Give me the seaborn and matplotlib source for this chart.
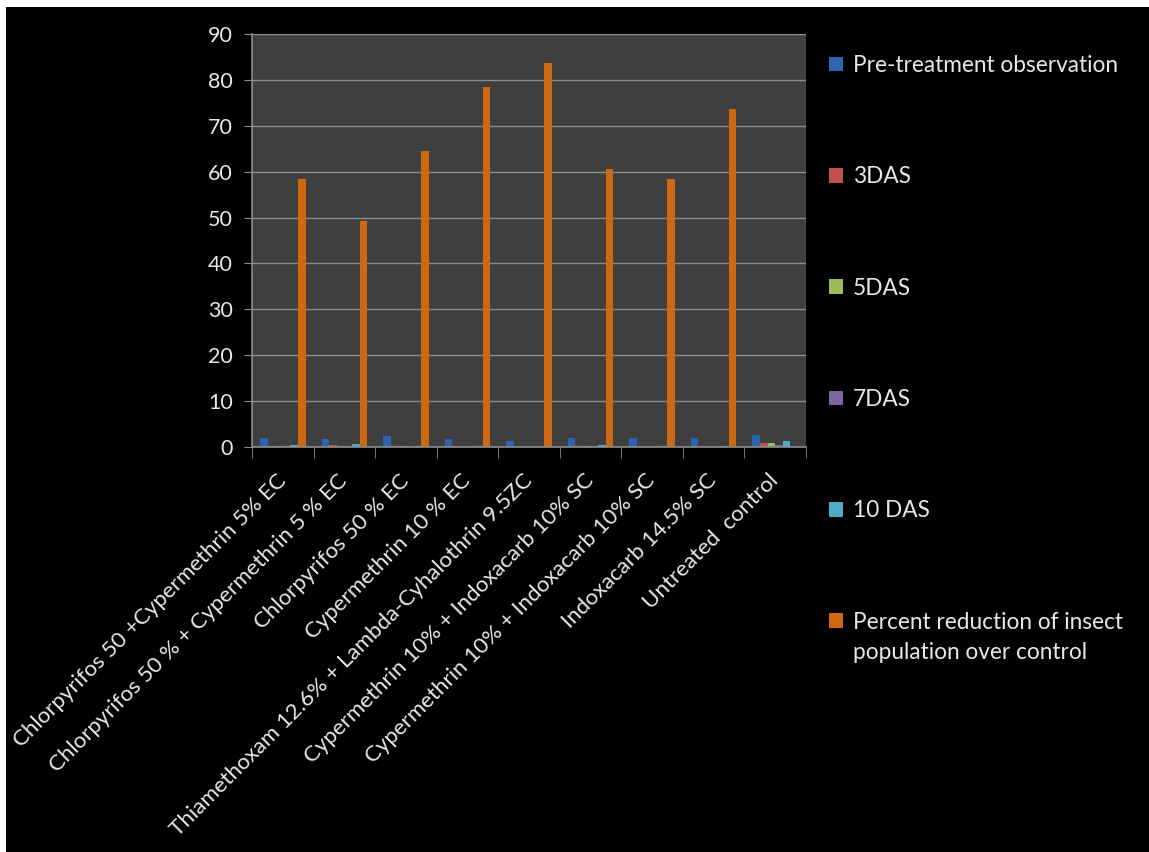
import matplotlib
matplotlib.use("Agg")
import matplotlib.pyplot as plt
from matplotlib.patches import Rectangle
import seaborn as sns
import pandas as pd

treatments = [
    "Chlorpyrifos 50 +Cypermethrin 5% EC",
    "Chlorpyrifos 50 % + Cypermethrin 5 % EC",
    "Chlorpyrifos 50 % EC",
    "Cypermethrin 10 % EC",
    "Thiamethoxam 12.6% + Lambda-Cyhalothrin 9.5ZC",
    "Cypermethrin 10% + Indoxacarb 10% SC",
    "Cypermethrin 10% + Indoxacarb 10% SC ",
    "Indoxacarb 14.5% SC",
    "Untreated  control",
]

series_names = [
    "Pre-treatment observation",
    "3DAS",
    "5DAS",
    "7DAS",
    "10 DAS",
    "Percent reduction of insect population over control",
]

pre_treatment = [1.9, 1.8, 2.3, 1.8, 1.2, 2.0, 2.0, 2.0, 2.6]
das3 = [0.3, 0.4, 0.3, 0.2, 0.2, 0.2, 0.2, 0.2, 0.9]
das5 = [0.2, 0.2, 0.2, 0.1, 0.1, 0.2, 0.1, 0.1, 0.9]
das7 = [0.2, 0.2, 0.1, 0.1, 0.1, 0.2, 0.2, 0.1, 0.5]
das10 = [0.5, 0.6, 0.3, 0.2, 0.1, 0.5, 0.3, 0.3, 1.3]
percent_reduction = [58.3, 49.3, 64.5, 78.4, 83.6, 60.6, 58.3, 73.6, 0.0]

y_ticks = [0, 10, 20, 30, 40, 50, 60, 70, 80, 90]

colors = ["#2c65ae", "#c0504d", "#9bbb59", "#8064a2", "#4bacc6", "#d0680f"]

rows = []
for name, vals in zip(series_names,
                      [pre_treatment, das3, das5, das7, das10, percent_reduction]):
    for t, v in zip(treatments, vals):
        rows.append({"Treatment": t, "Series": name, "Value": v})
df = pd.DataFrame(rows)

sns.set_style("dark")
text_color = "#e8e8e8"
plt.rcParams["font.family"] = ["Lato", "DejaVu Sans"]

fig = plt.figure(figsize=(11.49, 8.52), dpi=100, facecolor="white")
fig.patches.append(Rectangle((6 / 1149, 0), 1 - 6 / 1149, 1 - 7 / 852,
                             transform=fig.transFigure, facecolor="black",
                             edgecolor="none", zorder=-10))
ax = fig.add_axes([252 / 1149, 1 - 447 / 852, (806 - 252) / 1149, (447 - 34) / 852])
ax.set_facecolor("#3f3f3f")

sns.barplot(data=df, x="Treatment", y="Value", hue="Series",
            order=treatments, hue_order=series_names, palette=colors,
            width=0.74, ax=ax, saturation=1, legend=True,
            linewidth=0, edgecolor="none")

ax.set_xlim(-0.5, len(treatments) - 0.5)
ax.set_ylim(0, 90)
ax.set_yticks(y_ticks)
ax.set_yticklabels([str(v) for v in y_ticks])
ax.grid(axis="y", color="#8c8c8c", linewidth=1)
ax.grid(axis="x", visible=False)
ax.set_axisbelow(True)
ax.set_xlabel("")
ax.set_ylabel("")

for side in ["top", "right"]:
    ax.spines[side].set_visible(False)
for side in ["left", "bottom"]:
    ax.spines[side].set_visible(True)
    ax.spines[side].set_color("#8c8c8c")
    ax.spines[side].set_linewidth(1.2)

ax.tick_params(axis="y", which="major", length=6, color="#8c8c8c",
               labelsize=15.5, labelcolor=text_color, pad=8, left=True)
ax.set_xticks(range(len(treatments)))
ax.set_xticks([i - 0.5 for i in range(len(treatments) + 1)], minor=True)
ax.tick_params(axis="x", which="major", length=0, labelsize=16,
               labelcolor=text_color, pad=22)
ax.tick_params(axis="x", which="minor", length=8, color="#8c8c8c", bottom=True)
ax.set_xticklabels([t.strip() for t in treatments], rotation=45,
                   ha="right", va="center", rotation_mode="anchor")

# Legend: the long last entry wraps onto a second line under its first line
handles, labels = ax.get_legend_handles_labels()
ax.legend_.remove()
wrap_at = "Percent reduction of insect"
labels = [wrap_at if l.startswith(wrap_at) else l for l in labels]
leg = fig.legend(handles, labels, loc="upper left",
                 bbox_to_anchor=(829 / 1149, 1 - 55 / 852),
                 frameon=False, fontsize=16.3, labelcolor=text_color,
                 handlelength=0.6, handleheight=0.6, handletextpad=0.45,
                 labelspacing=3.99, borderaxespad=0, borderpad=0)

fig.canvas.draw()
last = leg.get_texts()[-1]
bb = last.get_window_extent()
x0 = bb.x0 / fig.bbox.width
y0 = (bb.y0 - 30) / fig.bbox.height
fig.text(x0, y0, "population over control", fontsize=16.3, color=text_color,
         ha="left", va="bottom")

fig.savefig("out.png", dpi=100, facecolor=fig.get_facecolor())
